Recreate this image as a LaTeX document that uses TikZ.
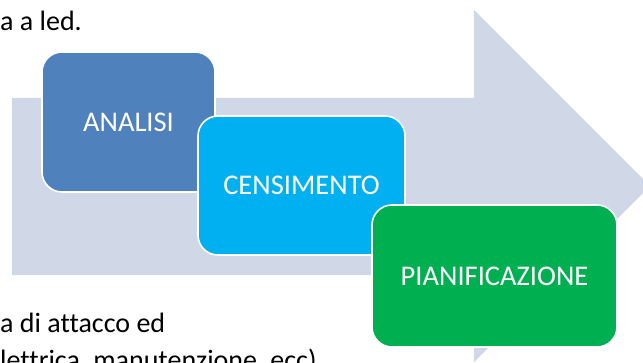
\documentclass[tikz,border=0pt]{standalone}
\usepackage{fontspec}
\setmainfont[Ligatures={NoCommon}]{Carlito}
\definecolor{arrowgray}{RGB}{208,216,232}
\definecolor{boxblue}{RGB}{79,129,189}
\definecolor{boxcyan}{RGB}{0,176,240}
\definecolor{boxgreen}{RGB}{0,176,80}
\begin{document}
\begin{tikzpicture}[x=1pt,y=1pt,
  stagebox/.style={draw=white, line width=1.6pt, rounded corners=20pt, inner sep=0pt,
    text=white, font=\fontsize{28.5}{34}\selectfont, anchor=center},
  outertext/.style={anchor=base west, inner sep=0pt, text=black, font=\fontsize{28}{34}\selectfont}]
\useasboundingbox (0,0) rectangle (643,362);
\clip (0,0) rectangle (643,362);
% big background arrow
\fill[arrowgray] (12,264) -- (474,264) -- (474,352) -- (650,176) -- (474,0) -- (474,87) -- (12,87) -- cycle;
% stage boxes
\node[stagebox, fill=boxblue, minimum width=173pt, minimum height=140pt] (analisi) at (128.5,240) {ANALISI};
\node[stagebox, fill=boxcyan, minimum width=207pt, minimum height=139pt] (censimento) at (301.5,176.5) {CENSIMENTO};
\node[stagebox, fill=boxgreen, minimum width=245pt, minimum height=142pt] (pianificazione) at (494.5,86) {PIANIFICAZIONE};
% surrounding text fragments
\node[outertext] (t1) at (0,331) {a a led.};
\node[outertext] (t2) at (0,30) {a di attacco ed};
\node[outertext] (t3) at (0,-7) {lettrica, manutenzione, ecc)};
\end{tikzpicture}
\end{document}
